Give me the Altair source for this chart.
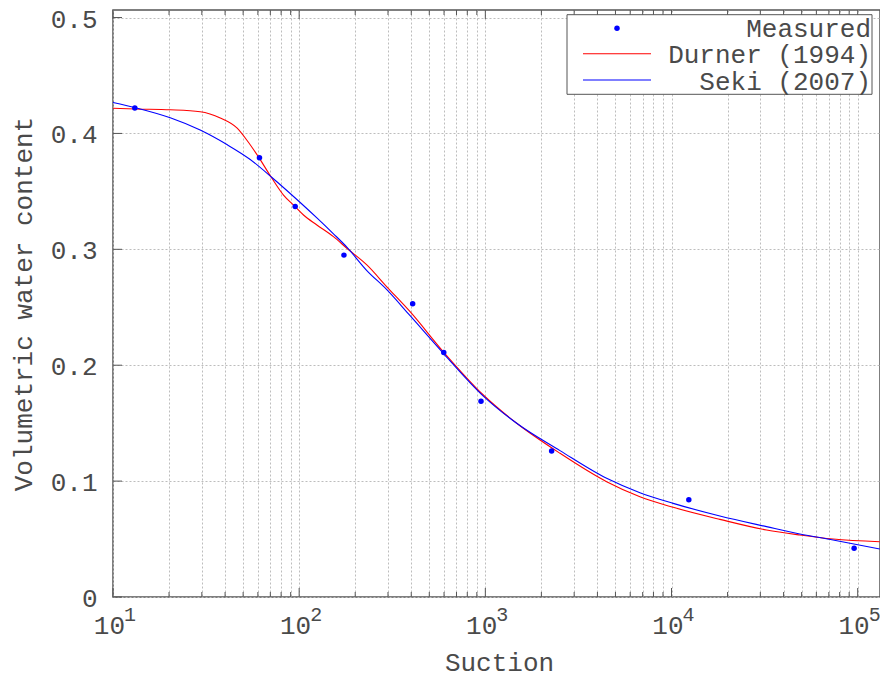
import altair as alt
import pandas as pd

# Measured soil-water retention points (suction, volumetric water content)
suction_measured = [13.1, 61.2, 95.2, 174, 407, 598, 948, 2270, 12390, 95700]
theta_measured = [0.422, 0.379, 0.337, 0.295, 0.253, 0.211, 0.169, 0.126, 0.084, 0.042]

# Fitted retention curves
durner_suction = [10, 13.2, 20.3, 29.4, 37.7, 46.3, 52.4, 60.3, 71.4, 82.4, 95.2, 105.5,
                  124.5, 152.8, 180.3, 230.9, 295.6, 394.3, 595, 975.7, 1474, 2518,
                  4483, 6767, 10210, 18190, 32390, 48880, 73790, 131400]
durner_theta = [0.4217, 0.4211, 0.4204, 0.4187, 0.4133, 0.4047, 0.3941, 0.380, 0.3613,
                0.3468, 0.3368, 0.3296, 0.321, 0.3109, 0.3009, 0.2865, 0.2677, 0.2462,
                0.2116, 0.1743, 0.1499, 0.124, 0.0995, 0.0865, 0.0774, 0.0670, 0.0578,
                0.0535, 0.050, 0.0477]
seki_suction = [10, 13.2, 20.3, 29.4, 40.9, 54.6, 71.4, 101.3, 124.5, 152.8, 180.3,
                230.9, 295.6, 394.3, 595, 975.7, 1474, 2518, 4483, 6767, 10210, 18190,
                32390, 48880, 73790, 131400]
seki_theta = [0.4267, 0.4222, 0.4135, 0.4029, 0.3904, 0.3775, 0.362, 0.3404, 0.3271,
              0.3134, 0.3019, 0.2817, 0.2652, 0.2427, 0.2103, 0.1734, 0.1499, 0.1263,
              0.1024, 0.090, 0.0808, 0.0699, 0.0607, 0.0544, 0.0492, 0.0414]

series_names = ["Measured", "Durner (1994)", "Seki (2007)"]

# Axis ticks
decades = [10, 100, 1000, 10000, 100000]
decade_exponents = ["1", "2", "3", "4", "5"]
minor_ticks = [d * 10 ** k for k in range(1, 5) for d in range(2, 10)]
x_grid_values = sorted(decades + minor_ticks)
y_ticks = [0, 0.1, 0.2, 0.3, 0.4, 0.5]

FONT = "Liberation Mono"
TEXT_COLOR = "#4a4a4a"
W, H = 767, 587

measured = pd.DataFrame({"suction": suction_measured, "theta": theta_measured})
durner = pd.DataFrame({"suction": durner_suction, "theta": durner_theta})
seki = pd.DataFrame({"suction": seki_suction, "theta": seki_theta})
decade_df = pd.DataFrame({"suction": decades, "base": ["10"] * len(decades),
                          "exp": decade_exponents})
major_df = pd.DataFrame({"suction": decades})
minor_df = pd.DataFrame({"suction": minor_ticks})
ytick_df = pd.DataFrame({"theta": y_ticks})
single = pd.DataFrame({"label": [series_names[0]]})

x_scale = alt.Scale(type="log", domain=[10, 131800], nice=False)
y_scale = alt.Scale(domain=[0, 0.5065], nice=False, zero=False)

x_axis = alt.Axis(
    values=x_grid_values, labels=False, ticks=False, domain=False,
    grid=True, gridColor="#bdbdbd", gridDash=[2, 2], gridWidth=1,
    title="Suction", titleFont=FONT, titleFontSize=26, titleFontWeight="normal",
    titleColor=TEXT_COLOR, titleX=386, titleY=73, titleAlign="center",
    titleBaseline="alphabetic",
)
y_axis = alt.Axis(
    values=y_ticks, labelExpr="datum.value == 0 ? '0' : format(datum.value, '.1f')",
    ticks=False, domain=False, labelPadding=16, labelFont=FONT, labelFontSize=26,
    labelColor=TEXT_COLOR, labelBaseline="middle", labelOffset=1.5,
    grid=True, gridColor="#bdbdbd", gridDash=[2, 2], gridWidth=1,
    title="Volumetric water content", titleFont=FONT, titleFontSize=26,
    titleFontWeight="normal", titleColor=TEXT_COLOR, titleX=-90, titleY=H / 2,
    titleAlign="center", titleBaseline="middle", titleAngle=270,
)

# The same encodings (with axes) are reused by every layer so the axes merge cleanly
X = alt.X("suction:Q", scale=x_scale, axis=x_axis)
Y = alt.Y("theta:Q", scale=y_scale, axis=y_axis)

durner_line = alt.Chart(durner).mark_line(
    color="#ff0000", strokeWidth=1.1, interpolate="monotone"
).encode(x=X, y=Y)
seki_line = alt.Chart(seki).mark_line(
    color="#0000ff", strokeWidth=1.1, interpolate="monotone"
).encode(x=X, y=Y)
points = alt.Chart(measured).mark_circle(color="#0000ff", size=30, opacity=1).encode(x=X, y=Y)

# Inward ticks on the frame
tick_color = "#555555"
bottom_major = alt.Chart(major_df).mark_rule(color=tick_color).encode(
    x=X, y=alt.value(H), y2=alt.value(H - 9))
top_major = alt.Chart(major_df).mark_rule(color=tick_color).encode(
    x=X, y=alt.value(0), y2=alt.value(9))
bottom_minor = alt.Chart(minor_df).mark_rule(color=tick_color).encode(
    x=X, y=alt.value(H), y2=alt.value(H - 5))
top_minor = alt.Chart(minor_df).mark_rule(color=tick_color).encode(
    x=X, y=alt.value(0), y2=alt.value(5))
left_ticks = alt.Chart(ytick_df).mark_rule(color=tick_color).encode(
    y=Y, x=alt.value(0), x2=alt.value(9))

# Decade labels 10^k below the axis
label_base = alt.Chart(decade_df).mark_text(
    align="right", baseline="alphabetic", dx=12, font=FONT, fontSize=26, color=TEXT_COLOR
).encode(x=X, y=alt.value(624), text="base:N")
label_exp = alt.Chart(decade_df).mark_text(
    align="left", baseline="alphabetic", dx=11, font=FONT, fontSize=20, color=TEXT_COLOR
).encode(x=X, y=alt.value(610.5), text="exp:N")

# Legend box in the upper right corner (one-row data so each item is drawn once)
legend_box = alt.Chart(single).mark_rect(
    fill="white", stroke="#555555", strokeWidth=1
).encode(x=alt.value(454), x2=alt.value(759), y=alt.value(4.7), y2=alt.value(84.3))
legend_dot = alt.Chart(single).mark_circle(color="#0000ff", size=30, opacity=1).encode(
    x=alt.value(504), y=alt.value(18.3))
legend_red = alt.Chart(single).mark_rule(color="#ff0000", strokeWidth=1.1).encode(
    x=alt.value(470), x2=alt.value(538), y=alt.value(43.7))
legend_blue = alt.Chart(single).mark_rule(color="#0000ff", strokeWidth=1.1).encode(
    x=alt.value(470), x2=alt.value(538), y=alt.value(70))
legend_texts = [
    alt.Chart(pd.DataFrame({"label": [name]})).mark_text(
        align="right", baseline="alphabetic", font=FONT, fontSize=26, color=TEXT_COLOR
    ).encode(x=alt.value(758), y=alt.value(yy), text="label:N")
    for name, yy in zip(series_names, [27.3, 53.3, 79.8])
]

chart = alt.layer(
    durner_line, seki_line, points,
    bottom_major, top_major, bottom_minor, top_minor, left_ticks,
    label_base, label_exp,
    legend_box, legend_dot, legend_red, legend_blue, *legend_texts,
).properties(
    width=W, height=H,
    padding={"left": 113, "top": 10, "right": 0, "bottom": 80},
    autosize=alt.AutoSizeParams(type="none"),
    background="white",
).configure_view(stroke="#555555", strokeWidth=1.5)

chart.save("out.html", embed_options={"renderer": "svg", "actions": False})
